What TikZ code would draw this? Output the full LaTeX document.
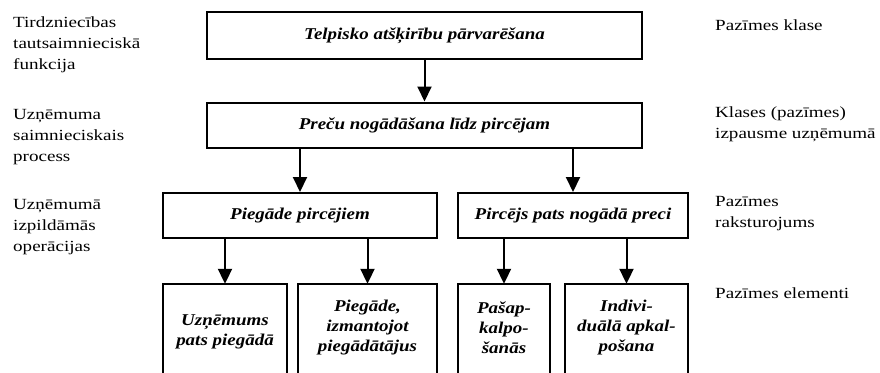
\documentclass[tikz,border=0pt]{standalone}
\usepackage{fontspec}
\setmainfont{Liberation Serif}
\newfontfamily\lblfont{Liberation Serif}[FakeStretch=1.23]
\newfontfamily\boxfont{Liberation Serif}[FakeStretch=1.15]
\usetikzlibrary{arrows.meta}
\begin{document}
\begin{tikzpicture}[x=1pt,y=-1pt,
  boxtext/.style={inner sep=0pt,align=center,
    font=\boxfont\fontsize{16.5}{20}\selectfont\bfseries\itshape},
  box/.style={boxtext,draw,line width=2pt},
  lbl/.style={anchor=west,align=left,inner sep=0pt,
    font=\lblfont\fontsize{15.5}{21}\selectfont},
  arr/.style={line width=2pt,-{Triangle[width=14pt,length=15pt]}},
  openbox/.style={line width=2pt}]
\useasboundingbox (0,0) rectangle (880,372);
\clip (0,0) rectangle (880,372);
\fill[white] (0,0) rectangle (880,372);
% main boxes
\node[box,minimum width=435pt,minimum height=47pt] (t) at (424.5,35.5) {Telpisko atšķirību pārvarēšana};
\node[box,minimum width=435pt,minimum height=45pt] (p) at (424.5,125) {Preču nogādāšana līdz pircējam};
\node[box,minimum width=274pt,minimum height=45pt] (a) at (300,215.5) {Piegāde pircējiem};
\node[box,minimum width=230pt,minimum height=45pt] (b) at (573,215.5) {Pircējs pats nogādā preci};
% bottom boxes (open at the bottom edge), top edge at y=284
\node[boxtext,minimum width=124pt,minimum height=96pt] (a1) at (225,332) {Uzņēmums\\pats piegādā};
\node[boxtext,minimum width=139pt,minimum height=88pt] (a2) at (367.5,328) {Piegāde,\\izmantojot\\piegādātājus};
\node[boxtext,minimum width=92pt,minimum height=88pt] (b1) at (504,328) {Pašap-\\kalpo-\\šanās};
\node[boxtext,minimum width=123pt,minimum height=88pt] (b2) at (626.5,328) {Indivi-\\duālā apkal-\\pošana};
\foreach \n in {a1,a2,b1,b2}{
  \draw[openbox] ([yshift=-60pt]\n.south west) -- (\n.north west) -- (\n.north east) -- ([yshift=-60pt]\n.south east);
}
% connectors
\draw[arr] (t.south) -- (p.north);
\draw[arr] (a.north |- p.south) -- (a.north);
\draw[arr] (b.north |- p.south) -- (b.north);
\draw[arr] (a1.north |- a.south) -- (a1.north);
\draw[arr] (a2.north |- a.south) -- (a2.north);
\draw[arr] (b1.north |- b.south) -- (b1.north);
\draw[arr] (b2.north |- b.south) -- (b2.north);
% left labels
\node[lbl] (l1) at (13,45) {Tirdzniecības\\tautsaimnieciskā\\funkcija};
\node[lbl] (l2) at (13,137) {Uzņēmuma\\saimnieciskais\\process};
\node[lbl] (l3) at (13,227) {Uzņēmumā\\izpildāmās\\operācijas};
% right labels
\node[lbl] (r1) at (715,25) {Pazīmes klase};
\node[lbl] (r2) at (715,124) {Klases (pazīmes)\\izpausme uzņēmumā};
\node[lbl] (r3) at (715,214) {Pazīmes\\raksturojums};
\node[lbl] (r4) at (715,293) {Pazīmes elementi};
\end{tikzpicture}
\end{document}
